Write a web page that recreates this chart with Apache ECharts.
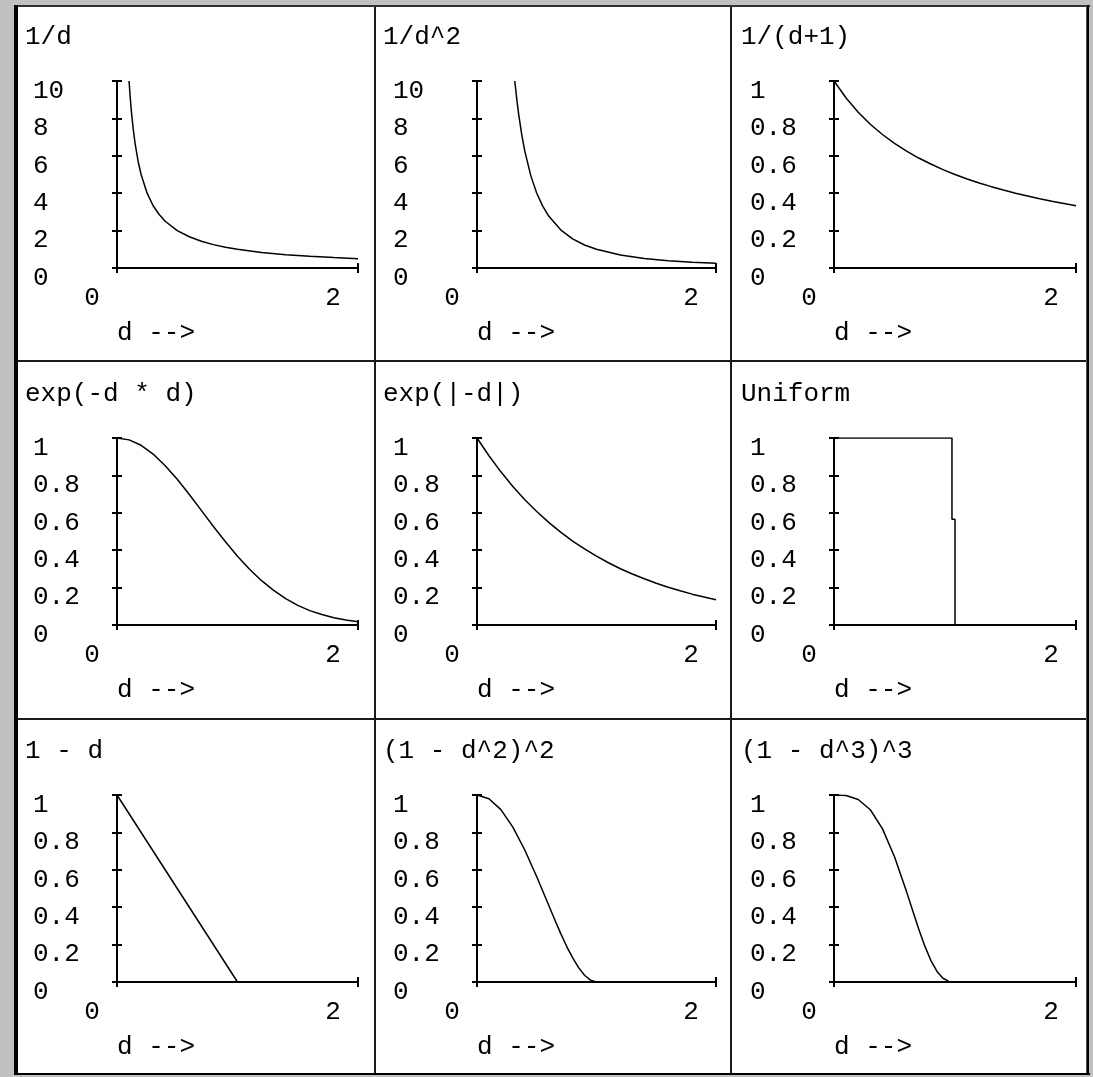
<!DOCTYPE html>
<html>
<head>
<meta charset="utf-8">
<title>Kernel weight functions</title>
<script src="https://cdn.jsdelivr.net/npm/echarts@6/dist/echarts.min.js"></script>
<style>
    html, body { margin: 0; padding: 0; background: #c0c0c0; }
    #kernels { width: 1093px; height: 1077px; }
</style>
</head>
<body>
<div id="kernels"></div>
<script>
// panel titles, row by row
var titles = ['1/d', '1/d^2', '1/(d+1)', 'exp(-d * d)', 'exp(|-d|)', 'Uniform', '1 - d', '(1 - d^2)^2', '(1 - d^3)^3'];
var yMax = [10, 10, 1, 1, 1, 1, 1, 1, 1];
var yStep = [2, 2, 0.2, 0.2, 0.2, 0.2, 0.2, 0.2, 0.2];
var xMin = 0, xMax = 2, xStep = 2;

// d samples
var dFull = [0, 0.1, 0.2, 0.3, 0.4, 0.5, 0.6, 0.7, 0.8, 0.9, 1.0, 1.1, 1.2, 1.3, 1.4, 1.5, 1.6, 1.7, 1.8, 1.9, 2.0];
var dInv = [0.1, 0.11, 0.12, 0.135, 0.15, 0.175, 0.2, 0.25, 0.3, 0.35, 0.4, 0.5, 0.6, 0.7, 0.8, 0.9, 1.0, 1.2, 1.4, 1.6, 1.8, 2.0];
var dInvSq = [0.316, 0.335, 0.35, 0.375, 0.4, 0.45, 0.5, 0.55, 0.6, 0.7, 0.8, 0.9, 1.0, 1.2, 1.4, 1.6, 1.8, 2.0];
var dUnit = [0, 0.1, 0.2, 0.3, 0.4, 0.5, 0.6, 0.65, 0.7, 0.75, 0.8, 0.85, 0.9, 0.95, 1.0];
var dUniform = [0, 0.975, 0.975, 1.0, 1.0];
var dLinear = [0, 1];

// weights
var invD = [10, 9.09, 8.33, 7.41, 6.67, 5.71, 5, 4, 3.33, 2.86, 2.5, 2, 1.67, 1.43, 1.25, 1.11, 1, 0.83, 0.71, 0.63, 0.56, 0.5];
var invDSq = [10, 8.91, 8.16, 7.11, 6.25, 4.94, 4, 3.31, 2.78, 2.04, 1.56, 1.23, 1, 0.69, 0.51, 0.39, 0.31, 0.25];
var invD1 = [1, 0.909, 0.833, 0.769, 0.714, 0.667, 0.625, 0.588, 0.556, 0.526, 0.5, 0.476, 0.455, 0.435, 0.417, 0.4, 0.385, 0.37, 0.357, 0.345, 0.333];
var gauss = [1, 0.99, 0.961, 0.914, 0.852, 0.779, 0.698, 0.613, 0.527, 0.445, 0.368, 0.298, 0.237, 0.185, 0.141, 0.105, 0.077, 0.056, 0.039, 0.027, 0.018];
var expD = [1, 0.905, 0.819, 0.741, 0.67, 0.607, 0.549, 0.497, 0.449, 0.407, 0.368, 0.333, 0.301, 0.273, 0.247, 0.223, 0.202, 0.183, 0.165, 0.15, 0.135];
var uniform = [1, 1, 0.566, 0.566, 0];
var linear = [1, 0];
var quadKernel = [1, 0.98, 0.922, 0.828, 0.706, 0.563, 0.41, 0.334, 0.26, 0.191, 0.13, 0.077, 0.036, 0.01, 0];
var cubeKernel = [1, 0.997, 0.976, 0.921, 0.82, 0.67, 0.482, 0.382, 0.284, 0.193, 0.116, 0.058, 0.02, 0.003, 0];

var curves = [
    { x: dInv, y: invD },
    { x: dInvSq, y: invDSq },
    { x: dFull, y: invD1 },
    { x: dFull, y: gauss },
    { x: dFull, y: expD },
    { x: dUniform, y: uniform },
    { x: dLinear, y: linear },
    { x: dUnit, y: quadKernel },
    { x: dUnit, y: cubeKernel }
];

// layout in px
var axisX = [117, 477, 834];
var plotW = [241, 239, 242];
var tickTop = [81, 438, 795];
var plotH = 187;
var titleLeft = [25, 383, 741];

var FONT = '"Liberation Mono", "DejaVu Sans Mono", monospace';
var FSIZE = 26;
var INK = '#000';

function zip(xs, ys) {
    var out = [];
    for (var k = 0; k < xs.length; k++) out.push([xs[k], ys[k]]);
    return out;
}

function frame() {
    var g = [];
    g.push({ type: 'rect', z: -10, shape: { x: 18, y: 7, width: 1068, height: 1066 }, style: { fill: '#fff' } });
    g.push({ type: 'rect', z: -9, shape: { x: 14, y: 5, width: 1076, height: 2 }, style: { fill: '#303030' } });
    g.push({ type: 'rect', z: -9, shape: { x: 14, y: 5, width: 4, height: 1070 }, style: { fill: '#000' } });
    g.push({ type: 'rect', z: -9, shape: { x: 1086, y: 5, width: 1, height: 1070 }, style: { fill: '#555' } });
    g.push({ type: 'rect', z: -9, shape: { x: 1087, y: 5, width: 2, height: 1070 }, style: { fill: '#000' } });
    g.push({ type: 'rect', z: -9, shape: { x: 14, y: 1073, width: 1076, height: 2 }, style: { fill: '#000' } });
    // cell dividers
    [374, 730].forEach(function (x) {
        g.push({ type: 'rect', z: -9, shape: { x: x, y: 7, width: 2, height: 1066 }, style: { fill: '#1a1a1a' } });
    });
    [360, 718].forEach(function (y) {
        g.push({ type: 'rect', z: -9, shape: { x: 18, y: y, width: 1068, height: 2 }, style: { fill: '#1a1a1a' } });
    });
    return g;
}

function LoadKernels() {
    var chart = echarts.init(document.getElementById('kernels'));
    var option = {
        animation: false,
        backgroundColor: 'transparent',
        title: [], grid: [], xAxis: [], yAxis: [], series: [],
        graphic: frame()
    };
    var label = { fontFamily: FONT, fontSize: FSIZE, color: INK };

    for (var i = 0; i < 9; i++) {
        var r = Math.floor(i / 3), c = i % 3;
        var bottom = tickTop[r] + plotH;

        option.title.push({
            text: titles[i], left: titleLeft[c], top: tickTop[r] - 44 - FSIZE / 2, padding: 0,
            textStyle: { fontFamily: FONT, fontSize: FSIZE, fontWeight: 'normal', color: INK }
        });
        option.grid.push({ left: axisX[c], top: tickTop[r], width: plotW[c], height: plotH, containLabel: false });

        // main axes: line, labels, outer ticks
        option.xAxis.push({
            gridIndex: i, type: 'value', min: xMin, max: xMax, interval: xStep, position: 'bottom',
            axisLine: { onZero: false, lineStyle: { color: INK, width: 2 } },
            axisTick: { inside: false, length: 5, lineStyle: { color: INK, width: 2 } },
            axisLabel: Object.assign({ margin: 17, padding: [0, 50, 0, 0] }, label),
            splitLine: { show: false }
        });
        // second copy only for the inner half of the ticks
        option.xAxis.push({
            gridIndex: i, type: 'value', min: xMin, max: xMax, interval: xStep, position: 'bottom',
            axisLine: { show: false, onZero: false },
            axisTick: { inside: true, length: 5, lineStyle: { color: INK, width: 2 } },
            axisLabel: { show: false }, splitLine: { show: false }
        });
        option.yAxis.push({
            gridIndex: i, type: 'value', min: 0, max: yMax[i], interval: yStep[i], position: 'left',
            axisLine: { onZero: false, lineStyle: { color: INK, width: 2 } },
            axisTick: { inside: false, length: 5, lineStyle: { color: INK, width: 2 } },
            axisLabel: Object.assign({ margin: 84, align: 'left', verticalAlign: 'top', lineHeight: 20 }, label),
            splitLine: { show: false }
        });
        option.yAxis.push({
            gridIndex: i, type: 'value', min: 0, max: yMax[i], interval: yStep[i], position: 'left',
            axisLine: { show: false, onZero: false },
            axisTick: { inside: true, length: 5, lineStyle: { color: INK, width: 2 } },
            axisLabel: { show: false }, splitLine: { show: false }
        });

        option.series.push({
            type: 'line', xAxisIndex: 2 * i, yAxisIndex: 2 * i,
            data: zip(curves[i].x, curves[i].y),
            symbol: 'none', smooth: false,
            lineStyle: { color: INK, width: 1.5 }
        });

        option.graphic.push({
            type: 'text', x: axisX[c], y: bottom + 65,
            style: { text: 'd -->', fontFamily: FONT, fontSize: FSIZE, fill: INK, verticalAlign: 'middle' }
        });
    }
    chart.setOption(option);
}

LoadKernels();
</script>
</body>
</html>
